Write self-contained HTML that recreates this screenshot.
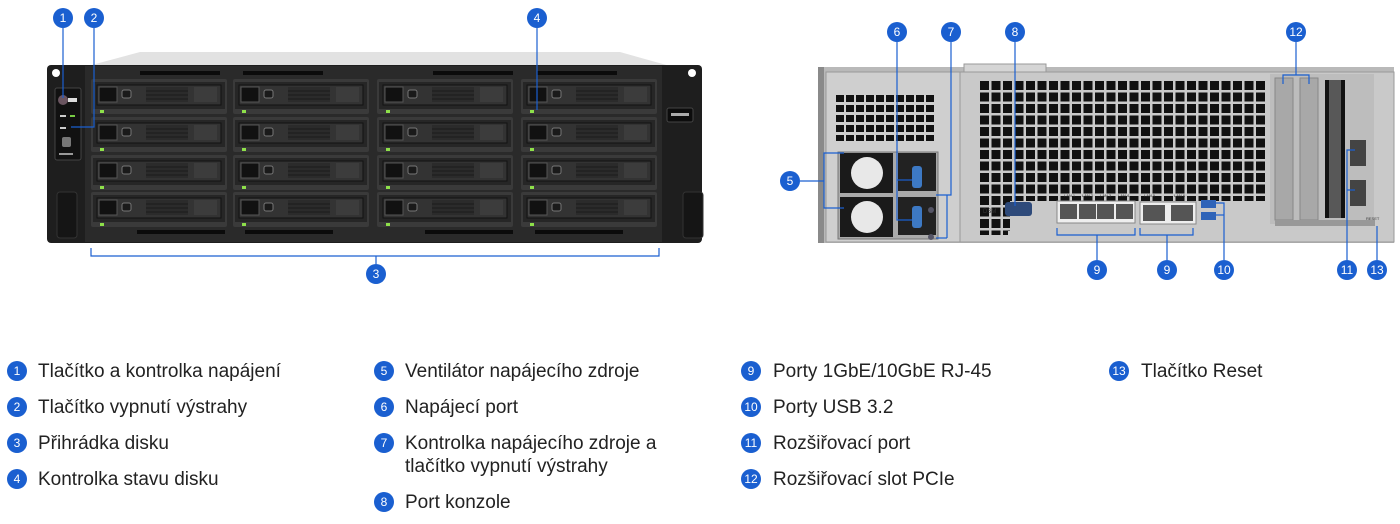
<!DOCTYPE html>
<html><head><meta charset="utf-8"><style>
html,body{margin:0;padding:0;background:#fff;}
body{width:1400px;height:524px;overflow:hidden;position:relative;font-family:"Liberation Sans",sans-serif;}
.leg{position:absolute;font-size:19px;color:#222;line-height:23px;}
.leg .c{position:absolute;left:0;top:1px;width:20px;height:20px;border-radius:50%;background:#1a5fd0;color:#fff;font-size:12px;text-align:center;line-height:20px;}
.leg .t{position:absolute;left:21px;top:0;white-space:nowrap;}
</style></head><body>
<svg width="1400" height="290" style="position:absolute;left:0;top:0" xmlns="http://www.w3.org/2000/svg">
<defs>
<g id="drv">
<rect x="0" y="0" width="136" height="35" rx="2" fill="#3a3a3a"/>
<rect x="2" y="3" width="132" height="27" fill="#262626"/>
<rect x="6" y="6" width="124" height="20" fill="#333" stroke="#111" stroke-width="1"/>
<rect x="8" y="8" width="18" height="15" fill="#111" stroke="#555" stroke-width="1"/>
<rect x="31" y="11" width="9" height="8" rx="2" fill="#1a1a1a" stroke="#777" stroke-width="1"/>
<rect x="55" y="8" width="42" height="15" fill="#2b2b2b"/>
<line x1="55" y1="12" x2="97" y2="12" stroke="#1b1b1b"/><line x1="55" y1="16" x2="97" y2="16" stroke="#1b1b1b"/><line x1="55" y1="20" x2="97" y2="20" stroke="#1b1b1b"/>
<rect x="103" y="8" width="23" height="15" fill="#3c3c3c"/>
<rect x="9" y="31" width="4" height="3" fill="#8ee04a"/>
</g>
<pattern id="vent" x="980" y="81" width="11.5" height="11.5" patternUnits="userSpaceOnUse"><rect width="9" height="9" fill="#111"/></pattern>
<pattern id="vent2" x="836" y="95" width="10" height="10" patternUnits="userSpaceOnUse"><rect width="8" height="7" fill="#111"/></pattern>
</defs>
<!-- FRONT -->
<polygon points="140,52 620,52 670,66 88,66" fill="#e2e2e2"/>
<rect x="47" y="65" width="655" height="178" rx="4" fill="#1e1e1e"/>
<rect x="85" y="66" width="577" height="176" fill="#2a2a2a"/>
<circle cx="56" cy="73" r="4" fill="#fff"/><circle cx="692" cy="73" r="4" fill="#fff"/>
<rect x="55" y="88" width="26" height="72" rx="2" fill="#111" stroke="#444"/>
<circle cx="63" cy="100" r="5" fill="#6a5560"/><rect x="68" y="98" width="9" height="4" fill="#ddd"/>
<rect x="60" y="115" width="6" height="2" fill="#ccc"/><rect x="70" y="115" width="5" height="2" fill="#7c4"/>
<rect x="60" y="127" width="6" height="2" fill="#ccc"/>
<rect x="62" y="137" width="9" height="10" rx="2" fill="#777"/>
<rect x="59" y="153" width="14" height="2" fill="#999"/>
<rect x="667" y="108" width="26" height="14" rx="2" fill="#0c0c0c" stroke="#444"/>
<rect x="671" y="113" width="18" height="3" fill="#aaa"/>
<rect x="57" y="192" width="20" height="46" rx="3" fill="#151515" stroke="#333"/>
<rect x="683" y="192" width="20" height="46" rx="3" fill="#151515" stroke="#333"/>
<rect x="140" y="71" width="80" height="4" fill="#0b0b0b"/><rect x="243" y="71" width="80" height="4" fill="#0b0b0b"/><rect x="433" y="71" width="80" height="4" fill="#0b0b0b"/><rect x="537" y="71" width="80" height="4" fill="#0b0b0b"/>
<rect x="137" y="230" width="88" height="4" fill="#0b0b0b"/><rect x="245" y="230" width="88" height="4" fill="#0b0b0b"/><rect x="425" y="230" width="88" height="4" fill="#0b0b0b"/><rect x="535" y="230" width="88" height="4" fill="#0b0b0b"/>
<use href="#drv" x="91" y="79"/><use href="#drv" x="233" y="79"/><use href="#drv" x="377" y="79"/><use href="#drv" x="521" y="79"/>
<use href="#drv" x="91" y="117"/><use href="#drv" x="233" y="117"/><use href="#drv" x="377" y="117"/><use href="#drv" x="521" y="117"/>
<use href="#drv" x="91" y="155"/><use href="#drv" x="233" y="155"/><use href="#drv" x="377" y="155"/><use href="#drv" x="521" y="155"/>
<use href="#drv" x="91" y="192"/><use href="#drv" x="233" y="192"/><use href="#drv" x="377" y="192"/><use href="#drv" x="521" y="192"/>
<!-- front leaders -->
<g stroke="#1a5fd0" stroke-width="1.2" fill="none">
<line x1="63" y1="28" x2="63" y2="98"/>
<polyline points="94,28 94,127 71,127"/>
<line x1="537" y1="28" x2="537" y2="110"/>
<polyline points="91,248 91,256 659,256 659,248"/>
<line x1="376" y1="256" x2="376" y2="264"/>
</g>
<!-- REAR -->
<rect x="818" y="67" width="576" height="176" fill="#b9b9b9"/>
<rect x="818" y="67" width="6" height="176" fill="#8a8a8a"/>
<rect x="960" y="72" width="434" height="170" fill="#c9c9c9" stroke="#999"/>
<rect x="826" y="72" width="134" height="170" fill="#cfcfcf" stroke="#999"/>
<rect x="964" y="64" width="82" height="8" fill="#d5d5d5" stroke="#999"/>
<rect x="836" y="95" width="100" height="46" fill="url(#vent2)"/>
<rect x="980" y="81" width="287" height="150" fill="url(#vent)"/>
<rect x="1010" y="201" width="257" height="34" fill="#c9c9c9"/>
<rect x="980" y="201" width="28" height="34" fill="url(#vent)"/>
<!-- PSU -->
<rect x="838" y="152" width="100" height="87" fill="#aaa" stroke="#777"/>
<rect x="840" y="153" width="53" height="40" fill="#1a1a1a"/><circle cx="867" cy="173" r="16" fill="#e8e8e8"/>
<rect x="840" y="197" width="53" height="40" fill="#1a1a1a"/><circle cx="867" cy="217" r="16" fill="#e8e8e8"/>
<rect x="898" y="153" width="38" height="38" fill="#222"/><rect x="908" y="135" width="12" height="0" fill="none"/>
<rect x="898" y="197" width="38" height="38" fill="#222"/>
<rect x="912" y="166" width="10" height="22" rx="3" fill="#3d79c4"/>
<rect x="912" y="206" width="10" height="22" rx="3" fill="#3d79c4"/>
<circle cx="931" cy="210" r="3" fill="#556"/><circle cx="931" cy="237" r="3" fill="#556"/>
<!-- console -->
<text x="983" y="213" font-size="6" fill="#333" font-family="Liberation Sans">DSM</text>
<rect x="1005" y="202" width="27" height="14" rx="3" fill="#2e4a7a"/>
<!-- LAN -->
<g fill="#333" font-size="4" font-family="Liberation Sans"><text x="1064" y="239" dy="-42">LAN 1</text><text x="1082" y="197">LAN 2</text><text x="1100" y="197">LAN 3</text><text x="1118" y="197">LAN 4</text><text x="1144" y="197">LAN 5</text><text x="1174" y="197">LAN 6</text></g>
<rect x="1057" y="201" width="78" height="22" fill="#eee" stroke="#888"/>
<rect x="1060" y="204" width="17" height="15" fill="#555"/><rect x="1079" y="204" width="17" height="15" fill="#555"/><rect x="1097" y="204" width="17" height="15" fill="#555"/><rect x="1116" y="204" width="17" height="15" fill="#555"/>
<rect x="1140" y="202" width="56" height="22" fill="#eee" stroke="#888"/>
<rect x="1143" y="205" width="22" height="16" fill="#555"/><rect x="1171" y="205" width="22" height="16" fill="#555"/>
<rect x="1201" y="200" width="15" height="8" fill="#2e63b8"/><rect x="1201" y="212" width="15" height="8" fill="#2e63b8"/>
<!-- PCIe -->
<rect x="1270" y="74" width="104" height="150" fill="#bdbdbd"/>
<rect x="1275" y="78" width="18" height="142" fill="#a8a8a8" stroke="#888"/>
<rect x="1300" y="78" width="18" height="142" fill="#a8a8a8" stroke="#888"/>
<rect x="1325" y="80" width="20" height="138" fill="#111"/>
<rect x="1329" y="80" width="12" height="138" fill="#ddd" opacity=".35"/>
<rect x="1350" y="140" width="16" height="26" fill="#444"/><rect x="1350" y="180" width="16" height="26" fill="#444"/>
<rect x="1275" y="220" width="100" height="6" fill="#999"/>
<text x="1366" y="220" font-size="4" fill="#333" font-family="Liberation Sans">RESET</text>
<!-- rear leaders -->
<g stroke="#1a5fd0" stroke-width="1.2" fill="none">
<polyline points="800,181 824,181"/>
<polyline points="844,153 824,153 824,208 844,208"/>
<polyline points="897,42 897,220 912,220"/><line x1="897" y1="180" x2="912" y2="180"/>
<polyline points="951,42 951,195 936,195"/><line x1="947" y1="195" x2="947" y2="238"/><line x1="936" y1="238" x2="947" y2="238"/>
<line x1="1015" y1="42" x2="1015" y2="206"/>
<polyline points="1057,228 1057,235 1135,235 1135,228"/><line x1="1097" y1="235" x2="1097" y2="260"/>
<polyline points="1140,228 1140,235 1193,235 1193,228"/><line x1="1167" y1="235" x2="1167" y2="260"/>
<polyline points="1216,203 1224,203 1224,260"/><line x1="1216" y1="215" x2="1224" y2="215"/>
<polyline points="1347,260 1347,150 1355,150"/><line x1="1347" y1="190" x2="1355" y2="190"/>
<line x1="1377" y1="226" x2="1377" y2="260"/>
<polyline points="1296,42 1296,75"/><polyline points="1283,84 1283,75 1309,75 1309,84"/>
</g>
<g fill="#1a5fd0"><circle cx="63" cy="18" r="10"/><circle cx="94" cy="18" r="10"/><circle cx="537" cy="18" r="10"/><circle cx="376" cy="274" r="10"/>
<circle cx="790" cy="181" r="10"/><circle cx="897" cy="32" r="10"/><circle cx="951" cy="32" r="10"/><circle cx="1015" cy="32" r="10"/><circle cx="1296" cy="32" r="10"/>
<circle cx="1097" cy="270" r="10"/><circle cx="1167" cy="270" r="10"/><circle cx="1224" cy="270" r="10"/><circle cx="1347" cy="270" r="10"/><circle cx="1377" cy="270" r="10"/></g>
<g fill="#fff" font-size="12" font-family="Liberation Sans" text-anchor="middle">
<text x="63" y="22">1</text><text x="94" y="22">2</text><text x="537" y="22">4</text><text x="376" y="278">3</text>
<text x="790" y="185">5</text><text x="897" y="36">6</text><text x="951" y="36">7</text><text x="1015" y="36">8</text><text x="1296" y="36">12</text>
<text x="1097" y="274">9</text><text x="1167" y="274">9</text><text x="1224" y="274">10</text><text x="1347" y="274">11</text><text x="1377" y="274">13</text></g>
</svg>
<div class="leg" style="left:7px;top:360px"><span class="c">1</span><span class="t" style="left:31px">Tlačítko a kontrolka napájení</span></div>
<div class="leg" style="left:7px;top:396px"><span class="c">2</span><span class="t" style="left:31px">Tlačítko vypnutí výstrahy</span></div>
<div class="leg" style="left:7px;top:432px"><span class="c">3</span><span class="t" style="left:31px">Přihrádka disku</span></div>
<div class="leg" style="left:7px;top:468px"><span class="c">4</span><span class="t" style="left:31px">Kontrolka stavu disku</span></div>
<div class="leg" style="left:374px;top:360px"><span class="c">5</span><span class="t" style="left:31px">Ventilátor napájecího zdroje</span></div>
<div class="leg" style="left:374px;top:396px"><span class="c">6</span><span class="t" style="left:31px">Napájecí port</span></div>
<div class="leg" style="left:374px;top:432px"><span class="c">7</span><span class="t" style="left:31px">Kontrolka napájecího zdroje a<br>tlačítko vypnutí výstrahy</span></div>
<div class="leg" style="left:374px;top:491px"><span class="c">8</span><span class="t" style="left:31px">Port konzole</span></div>
<div class="leg" style="left:741px;top:360px"><span class="c">9</span><span class="t" style="left:32px">Porty 1GbE/10GbE RJ-45</span></div>
<div class="leg" style="left:741px;top:396px"><span class="c">10</span><span class="t" style="left:32px">Porty USB 3.2</span></div>
<div class="leg" style="left:741px;top:432px"><span class="c">11</span><span class="t" style="left:32px">Rozšiřovací port</span></div>
<div class="leg" style="left:741px;top:468px"><span class="c">12</span><span class="t" style="left:32px">Rozšiřovací slot PCIe</span></div>
<div class="leg" style="left:1109px;top:360px"><span class="c">13</span><span class="t" style="left:32px">Tlačítko Reset</span></div>
</body></html>
